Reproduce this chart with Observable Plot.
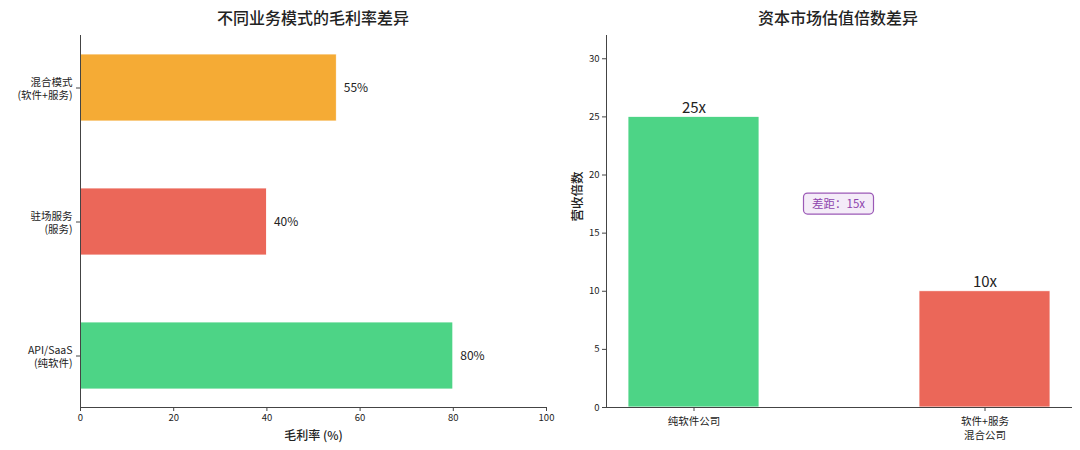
<!DOCTYPE html>
<html>
<head>
<meta charset="utf-8">
<script src="https://cdn.jsdelivr.net/npm/d3@7"></script>
<script src="https://cdn.jsdelivr.net/npm/@observablehq/plot@0.6"></script>
<style>
  html, body { margin: 0; padding: 0; background: #fff; }
  body { width: 1080px; height: 450px; position: relative; overflow: hidden;
         font-family: "Noto Sans CJK SC", "Noto Sans", sans-serif; color: #222; }
  .panel { position: absolute; top: 0; }
  .title { position: absolute; top: 5px; font-size: 16px; font-weight: 500; color: #222;
           white-space: nowrap; transform: translateX(-50%); }
</style>
</head>
<body>
<div id="left" class="panel" style="left:0px"></div>
<div id="right" class="panel" style="left:560px"></div>
<div id="leftTitle" class="title" style="left:313px"></div>
<div id="rightTitle" class="title" style="left:838px"></div>
<script>
// ---- Left chart data: gross margin by business model ----
const bizModels = ["API/SaaS\n(纯软件)", "驻场服务\n(服务)", "混合模式\n(软件+服务)"];
const grossMargins = [80, 40, 55];
const marginTicks = [0, 20, 40, 60, 80, 100];
const leftTitle = "不同业务模式的毛利率差异";
const leftXLabel = "毛利率 (%)";

// ---- Right chart data: revenue multiples ----
const companyTypes = ["纯软件公司", "软件+服务\n混合公司"];
const revenueMultiples = [25, 10];
const multipleTicks = [0, 5, 10, 15, 20, 25, 30];
const rightTitle = "资本市场估值倍数差异";
const rightYLabel = "营收倍数";

// palette (styles kept apart from data)
const leftColors = ["#2ecc71", "#e74c3c", "#f39c12"];
const rightColors = ["#2ecc71", "#e74c3c"];
const font = "Noto Sans CJK SC, sans-serif";

document.getElementById("leftTitle").textContent = leftTitle;
document.getElementById("rightTitle").textContent = rightTitle;

const leftData = bizModels.map((m, i) => ({model: m, margin: grossMargins[i]}));
const rightData = companyTypes.map((c, i) => ({type: c, multiple: revenueMultiples[i]}));

const left = Plot.plot({
  width: 560, height: 450,
  marginTop: 35, marginBottom: 43, marginLeft: 80, marginRight: 14,
  style: {fontFamily: font, color: "#222", background: "transparent"},
  x: {domain: [0, 100], label: null},
  y: {domain: [...bizModels].reverse(), paddingInner: 0.5, paddingOuter: 0.128, label: null},
  color: {domain: bizModels, range: leftColors},
  marks: [
    Plot.barX(leftData, {x: "margin", y: "model", fill: "model", fillOpacity: 0.85, stroke: "white", strokeWidth: 0.8}),
    Plot.text(leftData, {x: "margin", y: "model", text: d => d.margin + "%", textAnchor: "start", dx: 7, fontSize: 12, fill: "#222"}),
    Plot.axisX({ticks: marginTicks, tickSize: 4, tickPadding: 3, fontSize: 9.5, label: null, stroke: "#444"}),
    Plot.axisY({tickSize: 4, tickFormat: () => "", label: null, stroke: "#444"}),
    Plot.text(bizModels, {y: d => d, frameAnchor: "left", textAnchor: "end", dx: -8, fontSize: 10.5, lineHeight: 1.25, fill: "#222"}),
    Plot.frame({anchor: "left", stroke: "#444"}),
    Plot.frame({anchor: "bottom", stroke: "#444"}),
    Plot.text([leftXLabel], {frameAnchor: "bottom", dy: 32, fontSize: 12, fill: "#222", fontWeight: 500})
  ]
});
document.getElementById("left").appendChild(left);

const gapMid = (revenueMultiples[0] + revenueMultiples[1]) / 2;
const gapText = "差距：" + (revenueMultiples[0] - revenueMultiples[1]) + "x";

const right = Plot.plot({
  width: 520, height: 450,
  marginTop: 35, marginBottom: 43, marginLeft: 46, marginRight: 9,
  style: {fontFamily: font, color: "#222", background: "transparent"},
  x: {domain: companyTypes, paddingInner: 0.55, paddingOuter: 0.0725, label: null},
  y: {domain: [0, 32], label: null},
  color: {domain: companyTypes, range: rightColors},
  marks: [
    Plot.barY(rightData, {x: "type", y: "multiple", fill: "type", fillOpacity: 0.85, stroke: "white", strokeWidth: 0.8}),
    Plot.text(rightData, {x: "type", y: "multiple", text: d => d.multiple + "x", lineAnchor: "bottom", dy: -4, fontSize: 15, fill: "#222"}),
    Plot.axisY({ticks: multipleTicks, tickSize: 4, tickPadding: 3, fontSize: 9.5, label: null, stroke: "#444"}),
    Plot.axisX({tickSize: 4, tickFormat: () => "", label: null, stroke: "#444"}),
    Plot.text(companyTypes, {x: d => d, frameAnchor: "bottom", lineAnchor: "top", dy: 8, fontSize: 10.5, lineHeight: 1.3, fill: "#222"}),
    Plot.frame({anchor: "left", stroke: "#444"}),
    Plot.frame({anchor: "bottom", stroke: "#444"}),
    Plot.text([rightYLabel], {frameAnchor: "left", rotate: -90, dx: -29, fontSize: 12.5, fontWeight: 500, fill: "#222"}),
    // annotation box between bars
    (index, scales, channels, dims) => {
      const cx = (dims.marginLeft + dims.width - dims.marginRight) / 2;
      const cy = scales.y(gapMid);
      const g = d3.create("svg:g").attr("font-family", font);
      const w = 70, h = 21;
      g.append("rect").attr("x", cx - w / 2).attr("y", cy - h / 2).attr("width", w).attr("height", h)
        .attr("rx", 4).attr("fill", "#f4ecf8").attr("stroke", "#9b59b6").attr("stroke-width", 1.2);
      g.append("text").attr("x", cx).attr("y", cy).attr("dy", "0.35em").attr("text-anchor", "middle")
        .attr("font-size", 11.5).attr("fill", "#8e44ad").text(gapText);
      return g.node();
    }
  ]
});
document.getElementById("right").appendChild(right);
</script>
</body>
</html>
